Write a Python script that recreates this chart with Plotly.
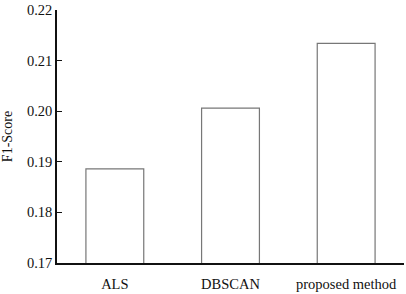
import plotly.graph_objects as go

categories = ["ALS", "DBSCAN", "proposed method"]
f1_scores = [0.1886, 0.2006, 0.2134]
y_ticks = [0.17, 0.18, 0.19, 0.20, 0.21, 0.22]
y_tick_labels = ["0.17", "0.18", "0.19", "0.20", "0.21", "0.22"]

font_family = "Liberation Serif, Times New Roman, serif"

fig = go.Figure(go.Bar(
    x=categories, y=f1_scores, width=0.5,
    marker=dict(color="white", line=dict(color="#777777", width=1.2)),
))

fig.update_layout(
    width=406, height=294,
    margin=dict(l=57, r=2, t=9, b=29),
    paper_bgcolor="white", plot_bgcolor="white",
    font=dict(family=font_family, size=14, color="#111111"),
    showlegend=False,
    bargap=0.5,
)
fig.update_xaxes(
    range=[-0.5, 2.5], showline=True, linecolor="#111111", linewidth=1.5,
    ticks="", showgrid=False, tickfont=dict(size=14.5), ticklabelstandoff=7,
)
fig.update_yaxes(
    range=[0.17, 0.22], tickvals=y_ticks, ticktext=y_tick_labels,
    showline=True, linecolor="#111111", linewidth=1.5,
    ticks="inside", ticklen=5, tickcolor="#111111", tickwidth=1.2,
    showgrid=False, zeroline=False, tickfont=dict(size=14.5),
    title=dict(text="F1-Score", font=dict(size=14), standoff=11),
)

fig.write_html(
    "out.html",
    config={"displayModeBar": False},
    post_script="document.body.style.margin='0';document.body.style.overflow='hidden';",
)
